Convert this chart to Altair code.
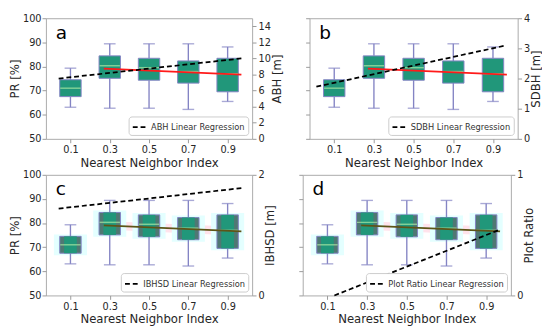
import altair as alt
import pandas as pd

# ---- data ----
nni = [0.1, 0.3, 0.5, 0.7, 0.9]
pr_low = [63.1, 62.7, 62.7, 62.2, 65.5]
pr_q1 = [67.5, 75.1, 74.3, 73.1, 69.5]
pr_med = [71.0, 80.3, 79.5, 77.9, 77.0]
pr_q3 = [74.5, 84.4, 83.4, 82.3, 83.4]
pr_high = [79.3, 89.4, 89.4, 89.4, 88.1]

trend_x = [0.27, 0.97]
trend_pr = [79.1, 76.6]

abh_x = [0.04, 0.97]
abh_reg = [7.5, 10.0]
sdbh_x = [0.01, 0.96]
sdbh_reg = [1.73, 3.09]
ibhsd_x = [0.04, 0.97]
ibhsd_reg = [1.44, 1.78]
ratio_x = [0.135, 0.96]
ratio_reg = [0.0, 0.54]

box_df = pd.DataFrame({"nni": nni, "low": pr_low, "q1": pr_q1, "med": pr_med,
                       "q3": pr_q3, "high": pr_high})
trend_df = pd.DataFrame({"x": trend_x, "y": trend_pr})

GREEN = "#21977a"
EDGE = "#8484c4"
MED = "#a9e8a2"
FONT = "DejaVu Sans"


def panel(letter, left_title, left_labels, right_title, right_domain, right_ticks,
          reg_x, reg_y, overlay, width, height):
    laxis = alt.Axis(values=[50, 60, 70, 80, 90, 100], title=left_title,
                     labels=left_labels, titlePadding=1, labelPadding=1)
    lscale = alt.Scale(domain=[50, 100])

    def Y(f):
        return alt.Y(f, type="quantitative", scale=lscale, axis=laxis)

    def X(f):
        return alt.X(f, type="quantitative", scale=alt.Scale(domain=[0, 1]),
                     axis=alt.Axis(values=nni, format=".1f", title="Nearest Neighbor Index"))

    base = alt.Chart(box_df)
    layers = []
    if overlay:
        layers.append(alt.Chart(trend_df).mark_line(color="#ffe3ec", strokeWidth=9)
                      .encode(x=X("x"), y=Y("y")))
        layers.append(base.mark_bar(size=30, color="#dcffff", stroke="#e4ffff", strokeWidth=4)
                      .encode(x=X("nni"), y=Y("q1"), y2="q3"))
    layers.append(base.mark_rule(color=EDGE, strokeWidth=1.4)
                  .encode(x=X("nni"), y=Y("low"), y2="q1"))
    layers.append(base.mark_rule(color=EDGE, strokeWidth=1.4)
                  .encode(x=X("nni"), y=Y("q3"), y2="high"))
    layers.append(base.mark_tick(orient="horizontal", size=12, thickness=1.4, color=EDGE)
                  .encode(x=X("nni"), y=Y("low")))
    layers.append(base.mark_tick(orient="horizontal", size=12, thickness=1.4, color=EDGE)
                  .encode(x=X("nni"), y=Y("high")))
    if overlay:
        layers.append(base.mark_bar(size=22, color="#4f7873", stroke=EDGE, strokeWidth=1)
                      .encode(x=X("nni"), y=Y("q1"), y2="q3"))
        layers.append(base.mark_bar(size=13, color=GREEN)
                      .encode(x=X("nni"), y=Y("q1"), y2="q3"))
    else:
        layers.append(base.mark_bar(size=22, color=GREEN, stroke=EDGE, strokeWidth=1)
                      .encode(x=X("nni"), y=Y("q1"), y2="q3"))
    layers.append(base.mark_tick(orient="horizontal", size=21, thickness=1.5, color=MED)
                  .encode(x=X("nni"), y=Y("med")))
    layers.append(alt.Chart(trend_df)
                  .mark_line(color="#5e5418" if overlay else "#ff1a1a", strokeWidth=1.8)
                  .encode(x=X("x"), y=Y("y")))
    layers.append(alt.Chart(pd.DataFrame({"t": [letter]}))
                  .mark_text(align="left", baseline="middle", fontSize=19, font=FONT,
                             color="black")
                  .encode(x=alt.value(10), y=alt.value(15), text="t:N"))
    left = alt.layer(*layers)

    reg_df = pd.DataFrame({"x": reg_x, "v": reg_y,
                           "label": [right_title.split(" [")[0] + " Linear Regression"] * 2})
    right = alt.Chart(reg_df).mark_line(color="black", strokeWidth=1.8).encode(
        x=X("x"),
        y=alt.Y("v:Q", scale=alt.Scale(domain=right_domain),
                axis=alt.Axis(orient="right", values=right_ticks, title=right_title,
                              format="d", titleAngle=270, titleBaseline="top",
                              titlePadding=1)),
        strokeDash=alt.StrokeDash("label:N", scale=alt.Scale(range=[[5, 3]]),
                                  legend=alt.Legend(orient="bottom-right", title=None,
                                                    fillColor="white", strokeColor="#cccccc",
                                                    cornerRadius=3, padding=3, offset=4,
                                                    labelFontSize=8.5, labelFont=FONT,
                                                    labelColor="#333333",
                                                    symbolType="stroke", symbolSize=180,
                                                    symbolStrokeWidth=1.8,
                                                    symbolStrokeColor="black")),
    )
    return alt.layer(left, right).resolve_scale(y="independent").properties(
        width=width, height=height)


H = 124
pa = panel("a", "PR [%]", True, "ABH [m]", [0, 15], [0, 2, 4, 6, 8, 10, 12, 14],
           abh_x, abh_reg, False, 212, H)
pb = panel("b", None, False, "SDBH [m]", [0, 4], [0, 1, 2, 3, 4],
           sdbh_x, sdbh_reg, False, 214, H)
pc = panel("c", "PR [%]", True, "IBHSD [m]", [0, 2], [0, 1, 2],
           ibhsd_x, ibhsd_reg, True, 212, H)
pd_ = panel("d", None, False, "Plot Ratio", [0, 1], [0, 1],
            ratio_x, ratio_reg, True, 214, H)

row1 = alt.hconcat(pa, pb, spacing=22).resolve_scale(strokeDash="independent")
row2 = alt.hconcat(pc, pd_, spacing=22).resolve_scale(strokeDash="independent")
chart = alt.vconcat(row1, row2, spacing=0).resolve_scale(strokeDash="independent").configure(
    padding=0, background="white"
).configure_axis(
    labelFont=FONT, titleFont=FONT, labelFontSize=10, titleFontSize=12,
    titleFontWeight="normal", labelColor="#262626", titleColor="#262626",
    domain=False, tickColor="#999999", tickSize=4, grid=False, labelPadding=2,
    titlePadding=3
).configure_view(stroke="#aaaaaa", strokeWidth=1)

chart.save("out.html", embed_options={"renderer": "svg", "actions": False})
